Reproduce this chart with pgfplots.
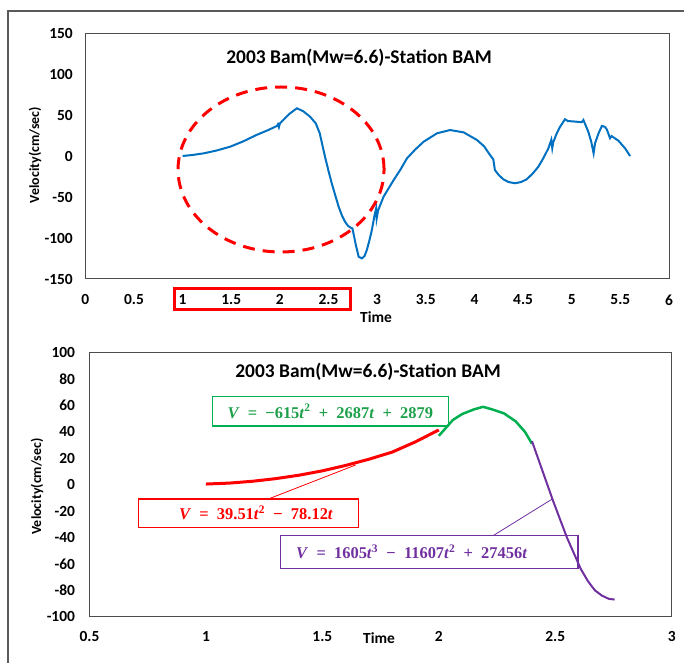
\documentclass[border=0pt]{standalone}
\usepackage{pgfplots}
\pgfplotsset{compat=1.18}
\usepackage{fontspec}
\setmainfont{Carlito}
\newfontfamily\eqfont{Liberation Serif}
\newcommand{\vi}[1]{\textit{#1}}
\newcommand{\op}[1]{\hspace{0.5em}#1\hspace{0.5em}}
\definecolor{xlblue}{RGB}{0,112,192}
\definecolor{xlgreen}{RGB}{0,176,80}
\definecolor{eqgreen}{RGB}{30,160,75}
\definecolor{xlpurple}{RGB}{112,48,160}
\definecolor{framegray}{RGB}{90,90,90}
\begin{document}
\begin{tikzpicture}[x=1bp,y=1bp]
\path[use as bounding box] (0,0) rectangle (684,663);
\draw[framegray,line width=1.3bp] (8,0) -- (8,652) -- (684,652);
% ---------------- top chart ----------------
\begin{axis}[
  at={(85.3bp,384bp)}, anchor=south west,
  width=583.7bp, height=245.5bp, scale only axis,
  xmin=0, xmax=6, ymin=-150, ymax=150,
  xtick={0,0.5,1,1.5,2,2.5,3,3.5,4,4.5,5,5.5,6},
  ytick={-150,-100,-50,0,50,100,150},
  axis line style={draw=black!70,line width=1bp},
  major tick length=0pt,
  tick label style={font=\fontsize{15.5}{18}\selectfont\bfseries},
  /pgf/number format/assume math mode=true,
  xticklabel shift=12bp, yticklabel shift=9bp,
  clip=false,
]
\addplot[xlblue, line width=2bp] coordinates {
(1.00,0.3)(1.10,1.5)(1.22,3.6)(1.35,7)(1.49,11.7)(1.62,18)(1.76,26)(1.88,32)
(1.97,37)(1.98,39)(1.99,35.5)(2.00,40)(2.04,45)(2.10,52)(2.175,58.6)(2.24,55)
(2.31,48.4)(2.37,40)(2.41,28)(2.44,12)(2.464,-0.6)(2.50,-18)(2.533,-33)(2.57,-48)
(2.604,-61.6)(2.64,-73)(2.67,-80)(2.70,-85)(2.738,-88)(2.745,-88)(2.758,-95)
(2.78,-108)(2.81,-122.8)(2.843,-124.8)(2.87,-122)(2.894,-114.6)(2.92,-103)
(2.946,-90)(2.97,-74)(2.99,-63.6)(2.995,-76)(3.01,-66)(3.066,-49.4)(3.17,-29)
(3.237,-16.8)(3.307,-2.5)(3.39,8)(3.478,17.8)(3.615,28)(3.749,32)(3.888,29.2)
(4.026,19.9)(4.10,12)(4.16,1.5)(4.194,-3.8)(4.21,-16.8)(4.25,-23)(4.297,-28.2)
(4.35,-31.5)(4.417,-33)(4.48,-31.5)(4.537,-28.2)(4.60,-21)(4.657,-12.8)(4.71,-2)
(4.76,9.7)(4.79,20)(4.80,10)(4.81,17)(4.846,28)(4.88,36)(4.931,45.2)(4.96,43)
(5.02,42.5)(5.103,41.6)(5.12,44.3)(5.17,30)(5.20,18)(5.225,3.6)(5.24,16)
(5.277,28.4)(5.31,37)(5.34,36)(5.36,33)(5.394,22)(5.41,24.6)(5.48,19)
(5.548,9.7)(5.60,0.3)
};
\draw[red, line width=3bp, dash pattern=on 12bp off 8bp]
  (axis cs:2.012,-16.2) ellipse [x radius=103bp, y radius=82.5bp];
\draw[red, line width=3bp] (axis cs:0.912,-162.2) rectangle (axis cs:2.731,-186.7);
\end{axis}
% ---------------- bottom chart ----------------
\begin{axis}[
  at={(89.5bp,46.3bp)}, anchor=south west,
  width=582.2bp, height=264bp, scale only axis,
  xmin=0.5, xmax=3, ymin=-100, ymax=100,
  xtick={0.5,1,1.5,2,2.5,3},
  ytick={-100,-80,-60,-40,-20,0,20,40,60,80,100},
  axis line style={draw=black!70,line width=1bp},
  major tick length=0pt,
  tick label style={font=\fontsize{15.5}{18}\selectfont\bfseries},
  /pgf/number format/assume math mode=true,
  xticklabel shift=11bp, yticklabel shift=11bp,
  clip=false,
]
\addplot[red, line width=3bp] coordinates {
(1.0,0.5)(1.1,1.2)(1.2,2.6)(1.3,4.6)(1.4,7.2)(1.5,10.5)(1.6,14.6)(1.7,19.3)
(1.8,24.7)(1.9,32.5)(2.0,41.5)
};
\addplot[xlgreen, line width=2.5bp] coordinates {
(2.0,37)(2.03,43)(2.06,49)(2.1,53.5)(2.15,57)(2.19,59)(2.23,57)(2.28,54)
(2.33,48)(2.37,40)(2.4,31)
};
\addplot[xlpurple, line width=2bp] coordinates {
(2.4,33)(2.43,18)(2.46,3)(2.49,-12)(2.52,-26)(2.55,-40)(2.58,-52)(2.61,-64)
(2.64,-73)(2.67,-80)(2.70,-84)(2.73,-86.5)(2.755,-87)
};
% annotation boxes
\draw[xlgreen, line width=1.3bp] (axis cs:1.0277,66.67) rectangle (axis cs:2.0411,44.47);
\node[eqgreen, font=\fontsize{16.5}{18}\selectfont\eqfont\bfseries] at (axis cs:1.534,55.6)
  {\vi{V}\op{=}−615\vi{t}\textsuperscript{2}\op{+}2687\vi{t}\op{+}2879};
\draw[red, line width=1.3bp] (axis cs:0.7113,-10.84) rectangle (axis cs:1.6556,-32.27);
\draw[red, line width=0.8bp] (axis cs:1.2678,-10.84) -- (axis cs:1.6427,14.92);
\node[red, font=\fontsize{16.5}{18}\selectfont\eqfont\bfseries] at (axis cs:1.215,-21.4)
  {\vi{V}\op{=}39.51\vi{t}\textsuperscript{2}\op{−}78.12\vi{t}};
\draw[xlpurple, line width=1.3bp] (axis cs:1.3202,-38.64) rectangle (axis cs:2.5976,-63.33);
\draw[xlpurple, line width=0.8bp] (axis cs:2.2327,-38.64) -- (axis cs:2.4852,-11.06);
\node[xlpurple, anchor=west, inner sep=0pt, font=\fontsize{16.5}{18}\selectfont\eqfont\bfseries] at (axis cs:1.3868,-51)
  {\vi{V}\op{=}1605\vi{t}\textsuperscript{3}\op{−}11607\vi{t}\textsuperscript{2}\op{+}27456\vi{t}};
\end{axis}
% ---------------- texts ----------------
\node[font=\fontsize{19.5}{22}\selectfont\bfseries] at (359,605) {2003 Bam(Mw=6.6)-Station BAM};
\node[font=\fontsize{19.5}{22}\selectfont\bfseries] at (368,291.3) {2003 Bam(Mw=6.6)-Station BAM};
\node[font=\fontsize{15.5}{18}\selectfont\bfseries] at (376,346) {Time};
\node[font=\fontsize{15.5}{18}\selectfont\bfseries] at (379,25) {Time};
\node[rotate=90, font=\fontsize{14}{16}\selectfont\bfseries] at (35,508) {Velocity(cm/sec)};
\node[rotate=90, font=\fontsize{14}{16}\selectfont\bfseries] at (37,176.5) {Velocity(cm/sec)};
\end{tikzpicture}
\end{document}
